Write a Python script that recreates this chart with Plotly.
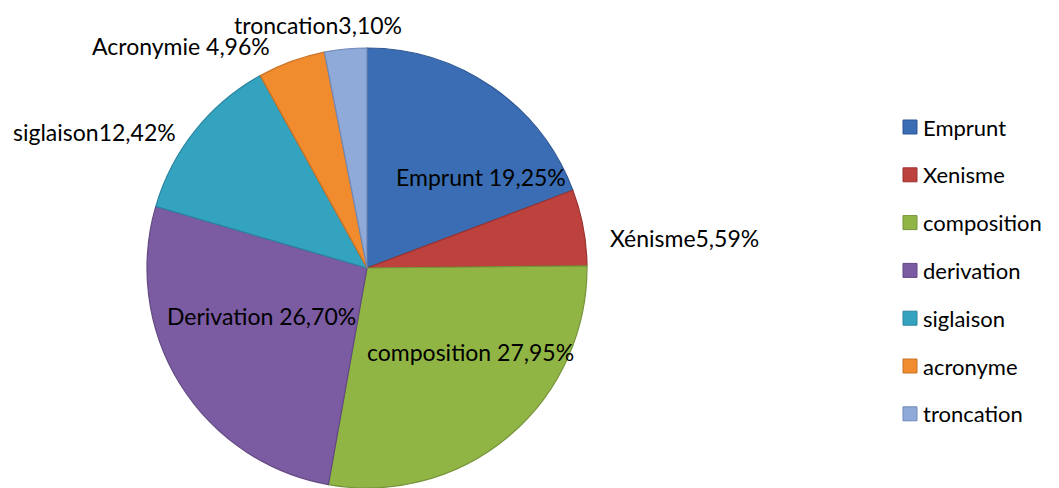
import plotly.graph_objects as go

# The page body has an 8px margin, so the figure is drawn 8px in from the window edge.
OFF = 8
W, H = 1059 - OFF, 488 - OFF

categories = ["Emprunt", "Xenisme", "composition", "derivation", "siglaison", "acronyme", "troncation"]
values = [19.25, 5.59, 27.95, 26.70, 12.42, 4.96, 3.10]
slice_labels = ["Emprunt 19,25%", "Xénisme5,59%", "composition 27,95%", "Derivation 26,70%",
                "siglaison12,42%", "Acronymie 4,96%", "troncation3,10%"]
colors = ["#3a6db3", "#bd423e", "#91b545", "#7b5ba1", "#33a3c0", "#f08b2e", "#8fa9d8"]
edge_colors = ["#2c5592", "#9a3330", "#76943a", "#634983", "#2a86a0", "#c87224", "#7089b8"]

# label anchor positions in window pixels (centre of text)
label_px = [(481, 177), (684, 238), (470, 352), (261, 316), (94, 132), (181, 46), (318, 25)]

FONT = "Lato, Carlito, Calibri, sans-serif"
FS_LABEL = 23
FS_LEGEND = 22

def px_x(x):
    return (x - OFF) / W

def px_y(y):
    return 1 - (y - OFF) / H

cx, cy, r = 367, 269, 221

fig = go.Figure()
fig.add_trace(go.Pie(
    labels=categories,
    values=values,
    sort=False,
    direction="clockwise",
    rotation=0,
    textinfo="none",
    hoverinfo="label+percent",
    showlegend=False,
    marker=dict(colors=colors, line=dict(color=edge_colors, width=1.2)),
    domain=dict(x=[px_x(cx - r), px_x(cx + r)], y=[max(0, px_y(cy + r)), px_y(cy - r)]),
))

for txt, (px, py) in zip(slice_labels, label_px):
    fig.add_annotation(x=px_x(px), y=px_y(py), xref="paper", yref="paper",
                       text=txt, showarrow=False, xanchor="center", yanchor="middle",
                       font=dict(family=FONT, size=FS_LABEL, color="#000000"))

# legend
leg_x, leg_y0, leg_dy, sq = 903, 127, 47.8, 14
for i, (name, col, ec) in enumerate(zip(categories, colors, edge_colors)):
    yc = leg_y0 + i * leg_dy
    fig.add_shape(type="rect", xref="paper", yref="paper",
                  x0=px_x(leg_x), x1=px_x(leg_x + sq),
                  y0=px_y(yc + sq / 2), y1=px_y(yc - sq / 2),
                  fillcolor=col, line=dict(color=ec, width=1))
    fig.add_annotation(x=px_x(leg_x + sq + 4), y=px_y(yc), xref="paper", yref="paper",
                       text=name, showarrow=False, xanchor="left", yanchor="middle",
                       font=dict(family=FONT, size=FS_LEGEND, color="#000000"))

fig.update_layout(
    width=W, height=H,
    margin=dict(l=0, r=0, t=0, b=0),
    paper_bgcolor="white", plot_bgcolor="white",
)

fig.write_html("out.html")
